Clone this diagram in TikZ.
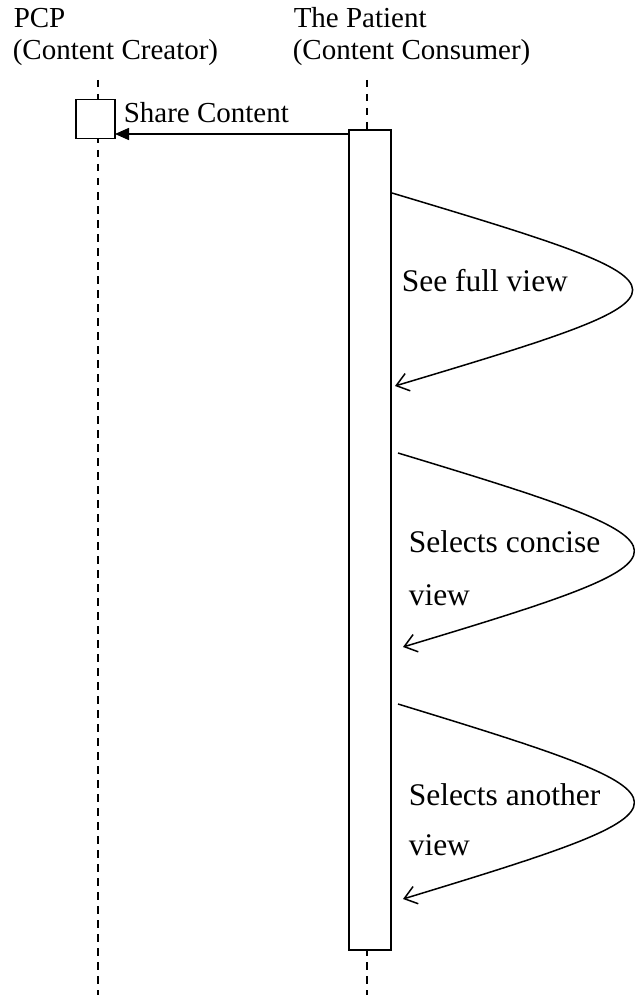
\documentclass[tikz,border=0pt]{standalone}
\usepackage{fontspec}
\setmainfont{Liberation Serif}
\usetikzlibrary{arrows.meta}
\begin{document}
\begin{tikzpicture}[x=1pt,y=-1pt,line width=1.5pt,
  lifeline/.style={dash pattern=on 7.5pt off 6.5pt,line width=1.7pt},
  actbox/.style={draw,fill=white,line width=1.5pt,inner sep=0pt},
  lbl/.style={font=\fontsize{29}{33}\selectfont,inner sep=0pt,anchor=base west},
  looplbl/.style={font=\fontsize{31.5}{36}\selectfont,inner sep=0pt,anchor=base west},
  msg/.style={-{Triangle[length=14pt,width=12pt]}},
  selfmsg/.style={-{Straight Barb[length=12pt,width=18pt]}}]
\useasboundingbox (0,0) rectangle (634,995);
% headers
\node[lbl] (pcp) at (13,28) {PCP};
\node[lbl] (pcp2) at (12,60) {(Content Creator)};
\node[lbl] (pat) at (293,28) {The Patient};
\node[lbl] (pat2) at (292,60) {(Content Consumer)};
% lifelines
\coordinate (pcptop) at (98,80);
\coordinate (pcpbot) at (98,995);
\coordinate (pattop) at (367,80);
\coordinate (patbot) at (367,995);
\draw[lifeline] (pcptop) -- (pcpbot);
\draw[lifeline] (pattop) -- (patbot);
% activation boxes
\node[actbox,minimum width=39pt,minimum height=39pt] (pcpbox) at (95.5,119) {};
\node[actbox,minimum width=42pt,minimum height=820pt] (bar) at (370,540) {};
% share content
\coordinate (s1) at (349,134);
\coordinate (s2) at (115,134);
\draw[msg] (s1) -- (s2);
\node[lbl] (share) at (123,123) {Share Content};
% self messages
\coordinate (a1) at (392,193);
\coordinate (a2) at (395,386);
\draw[selfmsg] (a1) .. controls (712,289) and (712,291) .. (a2);
\node[looplbl] (t1) at (401,291) {See full view};
\coordinate (b1) at (398,453);
\coordinate (b2) at (403,647);
\draw[selfmsg] (b1) .. controls (712,548) and (712,554) .. (b2);
\node[looplbl] (t2a) at (408,552) {Selects concise};
\node[looplbl] (t2b) at (408,605) {view};
\coordinate (c1) at (398,704);
\coordinate (c2) at (403,899);
\draw[selfmsg] (c1) .. controls (712,800) and (712,805) .. (c2);
\node[looplbl] (t3a) at (408,805) {Selects another};
\node[looplbl] (t3b) at (408,855) {view};
\end{tikzpicture}
\end{document}
